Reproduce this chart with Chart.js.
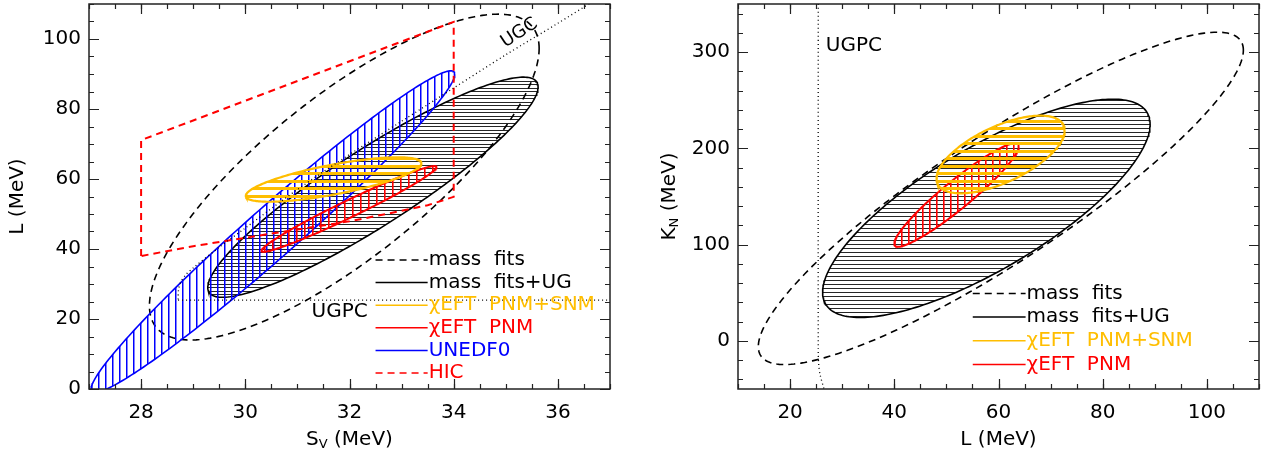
<!DOCTYPE html>
<html><head><meta charset="utf-8">
<script src="https://cdn.jsdelivr.net/npm/chart.js@4/dist/chart.umd.min.js"></script>
<style>
html,body{margin:0;padding:0;background:#fff;}
#wrap{position:relative;width:1270px;height:458px;overflow:hidden;background:#fff;}
.pane{position:absolute;top:0;width:635px;height:458px;}
#p1{left:0} #p2{left:635px}
canvas{display:block}
</style></head><body>
<div id="wrap">
<div class="pane" id="p1"><canvas id="c1" width="635" height="458"></canvas></div>
<div class="pane" id="p2"><canvas id="c2" width="635" height="458"></canvas></div>
</div>
<script>
// ================= DATA: left panel (S_v vs L) =================
const leftXTicks = [28, 30, 32, 34, 36];
const leftYTicks = [0, 20, 40, 60, 80, 100];
// ellipses: mass fits, mass fits+UG, UNEDF0, chiEFT PNM, chiEFT PNM+SNM
const leftNames    = ['mass fits', 'mass fits+UG', 'UNEDF0', 'χEFT PNM', 'χEFT PNM+SNM'];
const leftXmin     = [28.16, 29.28, 27.04, 30.31, 30.01];
const leftXmax     = [35.64, 35.62, 34.02, 33.67, 33.38];
const leftYmin     = [14.0, 26.2, -1.0, 39.2, 53.5];
const leftYmax     = [107.1, 89.1, 90.9, 63.7, 66.2];
const leftYatXmax  = [97.3, 86.3, 89.9, 63.4, 64.5];
// HIC region (red dashed polygon)
const hicS = [28.0, 28.0, 34.0, 34.0, 33.5, 32.8, 32.0, 31.0, 30.0, 29.0, 28.0];
const hicL = [38.0, 71.1, 104.9, 54.9, 52.5, 50.3, 47.9, 45.6, 43.2, 40.8, 38.0];
// UGC boundary (dotted)
const ugcS = [28.71, 28.72, 28.76, 28.85, 29.0, 29.5, 30.0, 31.0, 32.0, 33.0, 34.0, 35.0, 36.0, 36.7];
const ugcL = [25.6, 28.5, 30.5, 32.5, 34.6, 40.5, 46.0, 57.0, 67.0, 76.5, 86.0, 95.5, 104.5, 111.0];
// UGPC (dotted horizontal)
const ugpcLeftS = [28.71, 37.0];
const ugpcLeftL = [25.4, 25.4];

// ================= DATA: right panel (L vs K_N) =================
const rightXTicks = [20, 40, 60, 80, 100];
const rightYTicks = [0, 100, 200, 300];
const rightNames   = ['mass fits', 'mass fits+UG', 'χEFT PNM', 'χEFT PNM+SNM'];
const rightXmin    = [13.9, 26.24, 40.0, 48.1];
const rightXmax    = [107.0, 89.1, 63.9, 72.7];
const rightYmin    = [-24.6, 24.3, 97.8, 153.3];
const rightYmax    = [320.7, 251.1, 205.3, 234.0];
const rightYatXmax = [302.0, 225.0, 202.0, 218.7];
const ugpcRightL = [25.4, 25.4, 25.5, 25.75, 26.5];
const ugpcRightK = [350, -12, -25, -35, -50];

// ================= helpers =================
const FONT = 'DejaVu Sans';
Chart.defaults.font.family = FONT;
Chart.defaults.font.size = 20;
Chart.defaults.color = '#000';
const YEL = '#ffbe00', RED = '#ff0000', BLUE = '#0000ff', BLK = '#000000';

function ellipseOutline(xmin, xmax, ymin, ymax, yAtXmax) {
  const cx = (xmin + xmax) / 2, rx = (xmax - xmin) / 2;
  const cy = (ymin + ymax) / 2, ry = (ymax - ymin) / 2;
  const c = Math.max(-1, Math.min(1, (yAtXmax - cy) / ry));
  const phi = Math.acos(c);
  const pts = [];
  const n = 240;
  for (let i = 0; i <= n; i++) {
    const t = 2 * Math.PI * i / n;
    pts.push({x: cx + rx * Math.cos(t), y: cy + ry * Math.cos(t - phi)});
  }
  return pts;
}
function zip(xs, ys) { return xs.map((x, i) => ({x, y: ys[i]})); }

function hatch(ctx, dir, period, thick, color, offsets) {
  const c = document.createElement('canvas');
  if (dir === 'h') { c.width = 16; c.height = period; } else { c.width = period; c.height = 16; }
  const g = c.getContext('2d');
  g.fillStyle = color;
  offsets.forEach(o => dir === 'h' ? g.fillRect(0, o, c.width, thick) : g.fillRect(o, 0, thick, c.height));
  return ctx.createPattern(c, 'repeat');
}

function ds(pts, color, width, dash, pattern, order, tension) {
  return {
    data: pts, showLine: true, borderColor: color, borderWidth: width,
    borderDash: dash || [], backgroundColor: pattern || 'rgba(0,0,0,0)',
    fill: pattern ? 'shape' : false, pointRadius: 0, pointHoverRadius: 0,
    tension: tension || 0, order: order
  };
}

function drawRich(ctx, parts, cx, cy, rot) {
  ctx.save();
  ctx.translate(cx, cy);
  if (rot) ctx.rotate(rot);
  let w = 0;
  parts.forEach(p => { ctx.font = p.size + 'px "' + FONT + '"'; p.w = ctx.measureText(p.text).width; w += p.w; });
  let x = -w / 2;
  ctx.textBaseline = 'middle'; ctx.textAlign = 'left'; ctx.fillStyle = '#000';
  parts.forEach(p => { ctx.font = p.size + 'px "' + FONT + '"'; ctx.fillText(p.text, x, p.dy || 0); x += p.w; });
  ctx.restore();
}

function decoPlugin(spec) {
  return {
    id: 'deco',
    afterDraw(chart) {
      const ctx = chart.ctx, a = chart.chartArea, xs = chart.scales.x, ys = chart.scales.y;
      ctx.save();
      // frame
      ctx.strokeStyle = '#222'; ctx.lineWidth = 1.5; ctx.setLineDash([]);
      ctx.strokeRect(a.left, a.top, a.right - a.left, a.bottom - a.top);
      // ticks (inward, all four sides)
      ctx.lineWidth = 1.2;
      const xt = (v, len) => {
        const p = Math.round(xs.getPixelForValue(v)) + 0.5;
        ctx.beginPath(); ctx.moveTo(p, a.bottom); ctx.lineTo(p, a.bottom - len);
        ctx.moveTo(p, a.top); ctx.lineTo(p, a.top + len); ctx.stroke();
      };
      const yt = (v, len) => {
        const p = Math.round(ys.getPixelForValue(v)) + 0.5;
        ctx.beginPath(); ctx.moveTo(a.left, p); ctx.lineTo(a.left + len, p);
        ctx.moveTo(a.right, p); ctx.lineTo(a.right - len, p); ctx.stroke();
      };
      for (let v = xs.min; v <= xs.max + 1e-9; v += spec.xMinor) xt(v, 5);
      for (let v = spec.yMinorStart; v <= ys.max + 1e-9; v += spec.yMinor) yt(v, 5);
      spec.xMajor.forEach(v => xt(v, 10));
      spec.yMajor.forEach(v => yt(v, 10));
      // legend
      const L = spec.legend;
      const lx0 = xs.getPixelForValue(L.x0), lx1 = xs.getPixelForValue(L.x1);
      let ly = ys.getPixelForValue(L.y0);
      ctx.font = '20px "' + FONT + '"'; ctx.textBaseline = 'middle'; ctx.textAlign = 'left';
      L.items.forEach(it => {
        ctx.strokeStyle = it.color; ctx.lineWidth = it.width || 1.5; ctx.setLineDash(it.dash || []);
        ctx.beginPath(); ctx.moveTo(lx0, ly); ctx.lineTo(lx1, ly); ctx.stroke();
        ctx.setLineDash([]);
        ctx.fillStyle = it.textColor || it.color;
        ctx.fillText(it.label, lx1 + 1, ly);
        ly += L.dy;
      });
      // free labels
      spec.labels.forEach(lb => {
        ctx.save();
        ctx.translate(xs.getPixelForValue(lb.x), ys.getPixelForValue(lb.y));
        if (lb.rot) ctx.rotate(lb.rot * Math.PI / 180);
        ctx.font = lb.size + 'px "' + FONT + '"'; ctx.fillStyle = '#000';
        ctx.textAlign = 'center'; ctx.textBaseline = 'middle';
        ctx.fillText(lb.text, 0, 0);
        ctx.restore();
      });
      // axis titles
      drawRich(ctx, spec.xTitle, (a.left + a.right) / 2, 440, 0);
      drawRich(ctx, spec.yTitle, spec.yTitleX, (a.top + a.bottom) / 2, -Math.PI / 2);
      ctx.restore();
    }
  };
}

function makeChart(id, o) {
  const canvas = document.getElementById(id);
  const ctx = canvas.getContext('2d');
  const datasets = o.buildDatasets(ctx);
  const fitX = s => { s.height = 69; s.paddingLeft = s.paddingRight = s.paddingTop = s.paddingBottom = 0; };
  const fitY = s => { s.width = o.yAxisWidth; s.paddingLeft = s.paddingRight = s.paddingTop = s.paddingBottom = 0; };
  return new Chart(ctx, {
    type: 'scatter',
    data: {datasets},
    options: {
      responsive: false, animation: false, events: [],
      layout: {padding: {top: 4, right: o.padRight, left: 0, bottom: 0}},
      plugins: {legend: {display: false}, tooltip: {enabled: false}},
      scales: {
        x: {
          type: 'linear', position: 'bottom', min: o.xMin, max: o.xMax,
          grid: {display: false, drawTicks: false}, border: {display: false},
          ticks: {padding: 12, font: {size: 20, family: FONT}, color: '#000', autoSkip: false, maxRotation: 0},
          afterBuildTicks: s => { s.ticks = o.xTicks.map(v => ({value: v})); },
          afterFit: fitX
        },
        y: {
          type: 'linear', position: 'left', min: o.yMin, max: o.yMax,
          grid: {display: false, drawTicks: false}, border: {display: false},
          ticks: {padding: 8, font: {size: 20, family: FONT}, color: '#000', autoSkip: false},
          afterBuildTicks: s => { s.ticks = o.yTicks.map(v => ({value: v})); },
          afterFit: fitY
        }
      }
    },
    plugins: [decoPlugin(o.deco)]
  });
}

// ================= LEFT CHART =================
makeChart('c1', {
  xMin: 27, xMax: 37, yMin: 0, yMax: 110, xTicks: leftXTicks, yTicks: leftYTicks,
  yAxisWidth: 89, padRight: 25,
  buildDatasets: ctx => {
    const E = i => ellipseOutline(leftXmin[i], leftXmax[i], leftYmin[i], leftYmax[i], leftYatXmax[i]);
    const pBlack = hatch(ctx, 'h', 7, 1, 'rgba(0,0,0,0.85)', [0, 4]);
    const pBlue = hatch(ctx, 'v', 7, 1.5, BLUE, [0]);
    const pRed = hatch(ctx, 'v', 8, 1.6, RED, [0]);
    const pYel = hatch(ctx, 'h', 15, 3, YEL, [0, 7]);
    return [
      ds(zip(ugcS, ugcL), BLK, 1.3, [1, 3], null, 0, 0.3),
      ds(zip(ugpcLeftS, ugpcLeftL), BLK, 1.3, [1, 3], null, 1),
      ds(zip(hicS, hicL), RED, 2, [7, 5], null, 2),
      ds(E(4), YEL, 2.2, [], pYel, 3),
      ds(E(3), RED, 2, [], pRed, 4),
      ds(E(2), BLUE, 1.6, [], pBlue, 5),
      ds(E(1), BLK, 1.6, [], pBlack, 6),
      ds(E(0), BLK, 1.6, [7, 5], null, 7)
    ];
  },
  deco: {
    xMajor: leftXTicks, yMajor: leftYTicks, xMinor: 0.5, yMinor: 5, yMinorStart: 0,
    legend: {x0: 32.5, x1: 33.5, y0: 36.86, dy: 22.6, items: [
      {label: 'mass  fits', color: BLK, dash: [7, 5]},
      {label: 'mass  fits+UG', color: BLK},
      {label: 'χEFT  PNM+SNM', color: YEL},
      {label: 'χEFT  PNM', color: RED},
      {label: 'UNEDF0', color: BLUE},
      {label: 'HIC', color: RED, dash: [7, 5]}
    ]},
    labels: [
      {text: 'UGPC', x: 31.81, y: 22.0, size: 20},
      {text: 'UGC', x: 35.26, y: 101.7, size: 18, rot: -33}
    ],
    xTitle: [{text: 'S', size: 20}, {text: 'V', size: 13, dy: 5}, {text: ' (MeV)', size: 20}],
    yTitle: [{text: 'L (MeV)', size: 20}],
    yTitleX: 18
  }
});

// ================= RIGHT CHART =================
makeChart('c2', {
  xMin: 10, xMax: 110, yMin: -50, yMax: 350, xTicks: rightXTicks, yTicks: rightYTicks,
  yAxisWidth: 103, padRight: 11,
  buildDatasets: ctx => {
    const E = i => ellipseOutline(rightXmin[i], rightXmax[i], rightYmin[i], rightYmax[i], rightYatXmax[i]);
    const pBlack = hatch(ctx, 'h', 4, 1, 'rgba(0,0,0,0.85)', [0]);
    const pRed = hatch(ctx, 'v', 7, 1.6, RED, [0]);
    const pYel = hatch(ctx, 'h', 15, 3, YEL, [0, 7]);
    return [
      ds(zip(ugpcRightL, ugpcRightK), BLK, 1.3, [1, 3], null, 0, 0.3),
      ds(E(3), YEL, 2.2, [], pYel, 1),
      ds(E(2), RED, 2, [], pRed, 2),
      ds(E(1), BLK, 1.6, [], pBlack, 3),
      ds(E(0), BLK, 1.6, [7, 5], null, 4)
    ];
  },
  deco: {
    xMajor: rightXTicks, yMajor: rightYTicks, xMinor: 5, yMinor: 20, yMinorStart: -40,
    legend: {x0: 55.06, x1: 65.2, y0: 49.3, dy: 23.7, items: [
      {label: 'mass  fits', color: BLK, dash: [7, 5]},
      {label: 'mass  fits+UG', color: BLK},
      {label: 'χEFT  PNM+SNM', color: YEL},
      {label: 'χEFT  PNM', color: RED}
    ]},
    labels: [
      {text: 'UGPC', x: 32.24, y: 306.5, size: 20}
    ],
    xTitle: [{text: 'L (MeV)', size: 20}],
    yTitle: [{text: 'K', size: 20}, {text: 'N', size: 13, dy: 5}, {text: ' (MeV)', size: 20}],
    yTitleX: 35
  }
});
</script>
</body></html>
